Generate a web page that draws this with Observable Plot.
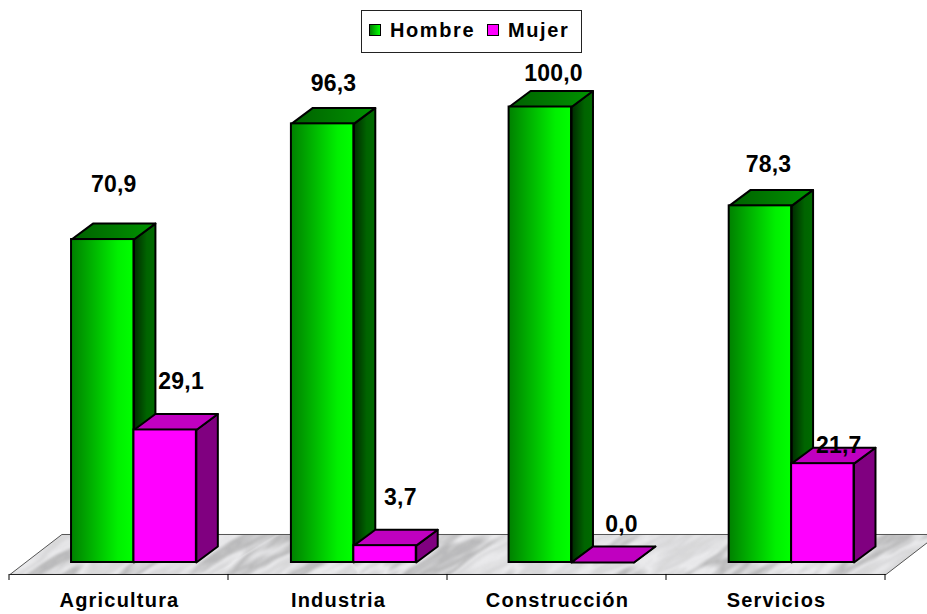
<!DOCTYPE html>
<html lang="es">
<head>
<meta charset="utf-8">
<script src="https://cdn.jsdelivr.net/npm/d3@7"></script>
<script src="https://cdn.jsdelivr.net/npm/@observablehq/plot@0.6"></script>
<style>
html,body{margin:0;padding:0;background:#fff;}
#wrap{position:relative;width:927px;height:614px;overflow:hidden;font-family:"Liberation Sans",Arial,sans-serif;font-weight:bold;}
#legend{position:absolute;left:361px;top:10px;width:221px;height:43px;box-sizing:border-box;border:1px solid #222;background:#fff;font-size:20px;letter-spacing:1.6px;color:#000;}
#legend span{position:absolute;white-space:nowrap;top:8px;line-height:22px;}
#legend i{position:absolute;width:10px;height:10px;border:1.5px solid #000;top:13px;}
svg{display:block;}
</style>
</head>
<body>
<div id="wrap">
<div id="legend">
<i style="left:7px;background:linear-gradient(90deg,#008000,#00ff00)"></i><span style="left:28px">Hombre</span>
<i style="left:125px;background:#ff00ff"></i><span style="left:146px">Mujer</span>
</div>
</div>
<script>
const categories = ["Agricultura", "Industria", "Construcción", "Servicios"];
const hombre = [70.9, 96.3, 100.0, 78.3];
const mujer = [29.1, 3.7, 0.0, 21.7];
const barStart = [0.281, 1.285, 2.279, 3.284];

const barW = 0.285, depthX = 0.098, depthY = 3.5;
const fmt = v => v.toFixed(1).replace(".", ",");

// label lift (value units) and shift (category units) above each bar
const hombreLift = [12.0, 8.8, 7.3, 9];
const mujerLift = [10.6, 10.6, 8.4, 3.9];
const hombreShift = [0.05, 0.05, 0.06, 0.037];
const mujerShift = [0.073, 0.07, 0.086, 0.073];

const bars = [
  ...categories.map((c, i) => ({c, i, s: "H", v: hombre[i], x0: barStart[i], lift: hombreLift[i], shift: hombreShift[i]})),
  ...categories.map((c, i) => ({c, i, s: "M", v: mujer[i], x0: barStart[i] + barW, lift: mujerLift[i], shift: mujerShift[i]}))
];

const poly = (b, pts) => pts.map(([x, y]) => ({id: b.s + b.i, x, y}));
const side = b => poly(b, [[b.x0 + barW, 0], [b.x0 + barW + depthX, depthY], [b.x0 + barW + depthX, b.v + depthY], [b.x0 + barW, b.v], [b.x0 + barW, 0]]);
const top_ = b => poly(b, [[b.x0, b.v], [b.x0 + depthX, b.v + depthY], [b.x0 + barW + depthX, b.v + depthY], [b.x0 + barW, b.v], [b.x0, b.v]]);
const of = s => bars.filter(b => s === b.s);

const face = (rows, fill) => Plot.line(rows, {x: "x", y: "y", z: "id", fill, stroke: "#000", strokeWidth: 2});
const front = (rows, fill) => Plot.rect(rows, {x1: "x0", x2: b => b.x0 + barW, y1: 0, y2: "v", fill, stroke: "#000", strokeWidth: 2});

const floorFront = -2.63, floorBack = 6.15, floorSkew = 0.237, tickEnd = -3.95;
const floor = [[0, floorFront], [4, floorFront], [4 + floorSkew, floorBack], [floorSkew, floorBack], [0, floorFront]].map(([x, y]) => ({x, y}));

const plot = Plot.plot({
  width: 927, height: 614,
  marginLeft: 0, marginRight: 0, marginTop: 0, marginBottom: 0,
  x: {type: "linear", domain: [0, 4], range: [9.5, 885.5], axis: null},
  y: {type: "linear", domain: [0, 100], range: [562, 106.5], axis: null},
  style: {fontFamily: "'Liberation Sans',Arial,sans-serif", background: "#fff", overflow: "hidden"},
  marks: [
    Plot.line(floor, {x: "x", y: "y", fill: "url(#marble)", stroke: "#555", strokeWidth: 1}),
    Plot.ruleY([floorFront], {x1: 0, x2: 4, stroke: "#222", strokeWidth: 1.2}),
    Plot.ruleX([0, 1, 2, 3, 4], {y1: floorFront, y2: tickEnd, stroke: "#000", strokeWidth: 1, dx: -1}),
    face(of("H").flatMap(side), "url(#gSide)"),
    face(of("H").flatMap(top_), "url(#gTop)"),
    front(of("H"), "url(#gFront)"),
    face(of("M").flatMap(side), "#800080"),
    face(of("M").flatMap(top_), "#c000c0"),
    front(of("M"), "#ff00ff"),
    Plot.text(bars, {x: b => b.x0 + barW / 2 + b.shift, y: b => b.v + b.lift, text: b => fmt(b.v), fontSize: 23, fontWeight: "bold", fill: "#000", textAnchor: "middle"}),
    Plot.text(categories, {x: (c, i) => i + 0.5, y: -8.3, text: c => c, fontSize: 20, fontWeight: "bold", fill: "#000", textAnchor: "middle", stroke: "none"})
  ]
});

const defs = d3.select(plot).append("defs");
const grad = (id, stops, dir = [0, 0, 1, 0]) => {
  const g = defs.append("linearGradient").attr("id", id)
    .attr("x1", dir[0]).attr("y1", dir[1]).attr("x2", dir[2]).attr("y2", dir[3]);
  stops.forEach(([o, c]) => g.append("stop").attr("offset", o).attr("stop-color", c));
};
grad("gFront", [[0, "#008000"], [0.75, "#00f000"], [1, "#00ff00"]]);
grad("gSide", [[0, "#002a00"], [0.6, "#006400"], [1, "#006a00"]]);
grad("gTop", [[0, "#006000"], [1, "#009400"]]);
defs.html(defs.html() + `
  <filter id="marbleF" x="0" y="0" width="100%" height="100%" color-interpolation-filters="sRGB">
    <feTurbulence type="fractalNoise" baseFrequency="0.008 0.04" numOctaves="4" seed="7"/>
    <feColorMatrix type="matrix" values="0 0 0 0 0  0 0 0 0 0  0 0 0 0 0  1.1 0 0 0 0"/>
    <feComponentTransfer><feFuncA type="table" tableValues="0 0 0.05 0.18 0.02 0.4 0.1 0"/></feComponentTransfer>
    <feColorMatrix type="matrix" values="0 0 0 0 0.4  0 0 0 0 0.4  0 0 0 0 0.4  0 0 0 1 0"/>
    <feGaussianBlur stdDeviation="1.3"/>
  </filter>
  <pattern id="marble" patternUnits="userSpaceOnUse" width="1100" height="300" patternTransform="rotate(-32)">
    <rect width="1100" height="300" fill="#eeeef0"/>
    <rect width="1100" height="300" filter="url(#marbleF)"/>
  </pattern>`);
const textGroups = plot.querySelectorAll('g[aria-label="text"]');
textGroups[0].style.letterSpacing = "0.2px";
textGroups[1].style.letterSpacing = "1.2px";
document.getElementById("wrap").prepend(plot);
</script>
</body>
</html>
